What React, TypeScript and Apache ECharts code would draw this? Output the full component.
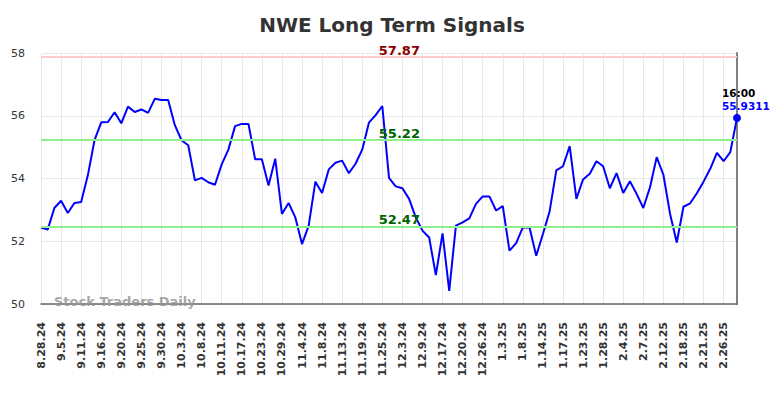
import React, { useEffect, useRef } from "react";
import * as echarts from "echarts";

const tickLabels = [
  "8.28.24", "9.5.24", "9.11.24", "9.16.24", "9.20.24", "9.25.24", "9.30.24",
  "10.3.24", "10.8.24", "10.11.24", "10.17.24", "10.23.24", "10.29.24", "11.4.24",
  "11.8.24", "11.13.24", "11.19.24", "11.25.24", "12.3.24", "12.9.24", "12.17.24",
  "12.20.24", "12.26.24", "1.3.25", "1.8.25", "1.14.25", "1.17.25", "1.23.25",
  "1.28.25", "2.4.25", "2.7.25", "2.12.25", "2.18.25", "2.21.25", "2.26.25",
];

const prices = [
  52.44, 52.37, 53.06, 53.29, 52.9, 53.22, 53.25, 54.1, 55.22, 55.79,
  55.8, 56.11, 55.76, 56.29, 56.12, 56.2, 56.09, 56.54, 56.5, 56.5,
  55.7, 55.22, 55.06, 53.94, 54.02, 53.88, 53.8, 54.45, 54.92, 55.67,
  55.74, 55.74, 54.61, 54.61, 53.78, 54.63, 52.87, 53.22, 52.76, 51.91,
  52.5, 53.9, 53.54, 54.29, 54.5, 54.57, 54.17, 54.47, 54.92, 55.78,
  56.02, 56.31, 54.02, 53.75, 53.69, 53.35, 52.76, 52.34, 52.12, 50.92,
  52.25, 50.42, 52.5, 52.6, 52.73, 53.19, 53.43, 53.43, 52.98, 53.12,
  51.7, 51.94, 52.44, 52.44, 51.54, 52.23, 52.95, 54.26, 54.39, 55.03,
  53.35, 53.97, 54.15, 54.55, 54.39, 53.69, 54.17, 53.54, 53.91, 53.51,
  53.06, 53.72, 54.68, 54.12, 52.87, 51.96, 53.1, 53.21, 53.53, 53.9,
  54.31, 54.82, 54.55, 54.84, 55.9311,
];

const resistance = 57.87;
const upperSupport = 55.22;
const lowerSupport = 52.47;
const lastTime = "16:00";
const labelIndex = 54;

const categories = prices.map((_, i) => (i % 3 === 0 ? tickLabels[i / 3] : ""));

const FONT = "DejaVu Sans";

export default function App() {
  const ref = useRef<HTMLDivElement>(null);
  useEffect(() => {
    if (!ref.current) return;
    const chart = echarts.init(ref.current, null, { renderer: "svg" });
    const lastIdx = prices.length - 1;
    const lastVal = prices[lastIdx];
    const levelLabel = (v: number, color: string) => ({
      coord: [labelIndex, v],
      value: v,
      symbol: "rect",
      symbolSize: 1,
      itemStyle: { color: "transparent" },
      label: {
        show: true,
        position: "top",
        distance: 0,
        offset: [-3, 0],
        formatter: v.toFixed(2),
        color,
        fontFamily: FONT,
        fontWeight: "bold",
        fontSize: 13,
      },
    });
    chart.setOption({
      animation: false,
      backgroundColor: "#ffffff",
      title: {
        text: "NWE Long Term Signals",
        left: "center",
        top: 10,
        textStyle: { fontFamily: FONT, fontWeight: "bold", fontSize: 20, color: "#333333" },
      },
      grid: { left: 41, right: 47, top: 53, bottom: 94, containLabel: false },
      xAxis: {
        type: "category",
        data: categories,
        boundaryGap: false,
        axisLine: { show: true, lineStyle: { color: "#666666", width: 1.5 } },
        axisTick: { show: false },
        axisLabel: {
          interval: 2,
          rotate: 90,
          margin: 18,
          fontFamily: FONT,
          fontSize: 11,
          fontWeight: "bold",
          color: "#333333",
        },
        splitLine: { show: true, interval: 2, lineStyle: { color: "#e8e8e8", width: 1 } },
      },
      yAxis: [
        {
          type: "value",
          min: 50,
          max: 58,
          interval: 2,
          axisLine: { show: false },
          axisTick: { show: false },
          axisLabel: { margin: 16, fontFamily: FONT, fontSize: 11, color: "#333333" },
          splitLine: { show: true, lineStyle: { color: "#e8e8e8", width: 1 } },
        },
        {
          type: "value",
          min: 50,
          max: 58,
          interval: 2,
          position: "right",
          axisLine: { show: true, lineStyle: { color: "#808080", width: 2 } },
          axisTick: { show: false },
          axisLabel: { show: false },
          splitLine: { show: false },
        },
      ],
      graphic: [
        {
          type: "text",
          left: 54,
          top: 295,
          z: 100,
          style: {
            text: "Stock Traders Daily",
            fill: "rgba(150,150,150,0.85)",
            font: `bold 13px "${FONT}"`,
          },
        },
      ],
      series: [
        {
          type: "line",
          data: prices,
          showSymbol: false,
          symbol: "none",
          lineStyle: { color: "#0000ff", width: 2 },
          itemStyle: { color: "#0000ff" },
          markLine: {
            silent: true,
            symbol: "none",
            label: { show: false },
            data: [
              { yAxis: resistance, lineStyle: { color: "#ffcccc", width: 2, type: "solid" } },
              { yAxis: upperSupport, lineStyle: { color: "#90ee90", width: 2, type: "solid" } },
              { yAxis: lowerSupport, lineStyle: { color: "#90ee90", width: 2, type: "solid" } },
            ],
          },
          markPoint: {
            silent: true,
            data: [
              levelLabel(resistance, "#8b0000"),
              levelLabel(upperSupport, "#006400"),
              levelLabel(lowerSupport, "#006400"),
              {
                coord: [lastIdx, lastVal],
                value: lastVal,
                symbol: "circle",
                symbolSize: 8,
                itemStyle: { color: "#0000ff" },
                label: {
                  show: true,
                  position: [-11, -27],
                  align: "left",
                  verticalAlign: "top",
                  formatter: `{a|${lastTime}}\n{b|${lastVal}}`,
                  rich: {
                    a: { fontFamily: FONT, fontWeight: "bold", fontSize: 10.5, color: "#000000", lineHeight: 13 },
                    b: { fontFamily: FONT, fontWeight: "bold", fontSize: 10.5, color: "#0000ff", lineHeight: 13 },
                  },
                },
              },
            ],
          },
        },
      ],
    });
    return () => chart.dispose();
  }, []);
  return (
    <div
      ref={ref}
      style={{ position: "fixed", left: 0, top: 0, width: 784, height: 398 }}
    />
  );
}
